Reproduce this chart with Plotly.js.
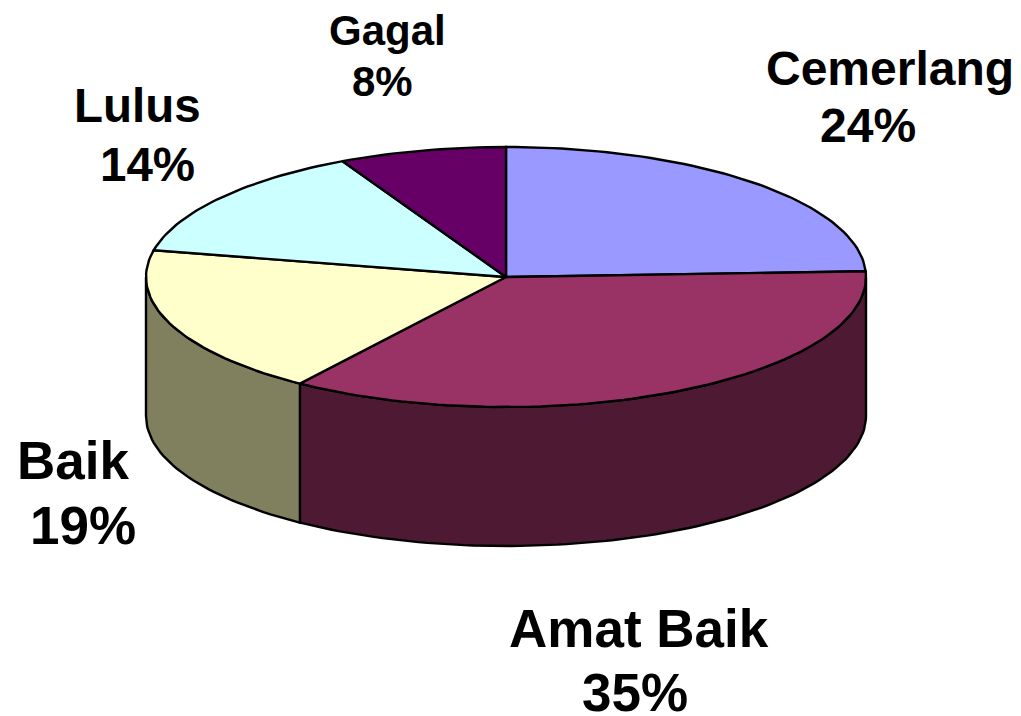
<!DOCTYPE html>
<html>
<head>
<meta charset="utf-8">
<script src="https://cdn.plot.ly/plotly-3.0.1.min.js"></script>
<style>html,body{margin:0;padding:0;background:#fff;overflow:hidden}#chart{width:1021px;height:716px}</style>
</head>
<body>
<div id="chart"></div>
<script>
var categories = ["Cemerlang", "Amat Baik", "Baik", "Lulus", "Gagal"];
var values = [24.3, 35.4, 18.6, 14.2, 7.5];
var topColors = ["#9999FF", "#993366", "#FFFFCC", "#CCFFFF", "#660066"];
var sideColors = ["#4D4D80", "#4D1933", "#80805F", "#668080", "#330033"];
var labelSizes = [48, 53, 53, 47.5, 42];
var labelX = [890, 639, 72.5, 137, 387];
var labelNameY = [68, 628, 460, 105, 30];
var labelPctX = [868, 635, 83, 147, 382];
var labelPctY = [125, 692, 525, 164, 81];

var cx = 506, cy = 277, rx = 360, ry = 130, depth = 139;

function pt(deg, dy) {
  var a = deg * Math.PI / 180;
  return [cx + rx * Math.sin(a), cy - ry * Math.cos(a) + (dy || 0)];
}
function arc(a0, a1, dy) {
  var out = [], n = Math.max(2, Math.ceil(Math.abs(a1 - a0) / 1.5));
  for (var i = 0; i <= n; i++) out.push(pt(a0 + (a1 - a0) * i / n, dy));
  return out;
}
function polyTrace(points, fill) {
  return {
    type: "scatter", mode: "lines", fill: "toself", fillcolor: fill,
    x: points.map(function (p) { return p[0]; }),
    y: points.map(function (p) { return p[1]; }),
    line: { color: "#000000", width: 2.4 },
    hoverinfo: "skip", showlegend: false
  };
}

var total = values.reduce(function (s, v) { return s + v; }, 0);
var starts = [], run = 0;
values.forEach(function (v) { starts.push(run / total * 360); run += v; });

var traces = [];
values.forEach(function (v, i) {
  var a0 = Math.max(starts[i], 90);
  var a1 = Math.min(starts[i] + v / total * 360, 270);
  if (a1 > a0) {
    var p = arc(a0, a1, 0).concat(arc(a1, a0, depth));
    p.push(p[0]);
    traces.push(polyTrace(p, sideColors[i]));
  }
});
values.forEach(function (v, i) {
  var p = [[cx, cy]].concat(arc(starts[i], starts[i] + v / total * 360, 0));
  p.push([cx, cy]);
  traces.push(polyTrace(p, topColors[i]));
});

var annotations = [];
categories.forEach(function (c, i) {
  var font = { family: "Liberation Sans, Arial, sans-serif", size: labelSizes[i], color: "#000000", weight: 700 };
  annotations.push({ x: labelX[i], y: labelNameY[i], xref: "x", yref: "y", text: "<b>" + c + "</b>",
    showarrow: false, xanchor: "center", yanchor: "middle", font: font });
  annotations.push({ x: labelPctX[i], y: labelPctY[i], xref: "x", yref: "y", text: "<b>" + Math.round(values[i]) + "%</b>",
    showarrow: false, xanchor: "center", yanchor: "middle", font: font });
});

Plotly.newPlot("chart", traces, {
  width: 1021, height: 716,
  margin: { l: 0, r: 0, t: 0, b: 0 },
  paper_bgcolor: "#FFFFFF", plot_bgcolor: "#FFFFFF",
  showlegend: false,
  xaxis: { range: [0, 1021], visible: false, fixedrange: true },
  yaxis: { range: [716, 0], visible: false, fixedrange: true },
  annotations: annotations
}, { displayModeBar: false, staticPlot: true });
</script>
</body>
</html>
